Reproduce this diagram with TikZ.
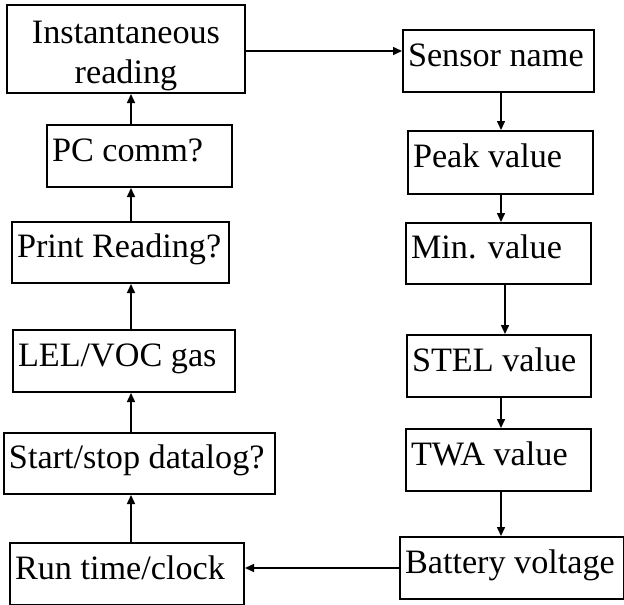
\documentclass[tikz,border=0pt]{standalone}
\usepackage{fontspec}
\setmainfont{Liberation Serif}
\usepackage{tikz}
\usetikzlibrary{positioning,arrows.meta}

\begin{document}
\begin{tikzpicture}[x=1pt, y=-1pt,
  box/.style={draw, line width=2pt, anchor=north west, inner xsep=5pt, inner ysep=0pt,
    align=flush left, text height=24pt, text depth=14pt, font=\fontsize{34.2}{40}\selectfont},
  arr/.style={-{Triangle[length=9pt,width=8pt]}, line width=1.5pt}]
\useasboundingbox (0,0) rectangle (624,605);
\coordinate (lx) at (131,0);
\coordinate (rx) at (501,0);
\coordinate (rx2) at (505,0);
\coordinate (ty) at (0,51);

\node[box, text width=228pt, minimum height=88pt, align=center, text height=24pt, text depth=36pt] (inst) at (6,4) {Instantaneous\\reading};
\node[box, text width=175pt, minimum height=62pt] (pc) at (46,124) {PC comm?};
\node[box, text width=207pt, minimum height=61pt] (prnt) at (11,221) {Print Reading?};
\node[box, text width=212pt, minimum height=62pt] (lel) at (12,329) {LEL/VOC gas};
\node[box, text width=261pt, minimum height=61pt] (dlog) at (3,432) {Start/stop datalog?};
\node[box, text width=224pt, minimum height=62pt] (run) at (9,542) {Run time/clock};

\node[box, text width=181pt, minimum height=62pt] (sens) at (402,29) {Sensor name};
\node[box, text width=175pt, minimum height=63pt] (peak) at (407,130) {Peak value};
\node[box, text width=175pt, minimum height=61pt] (minv) at (405,222) {Min. value};
\node[box, text width=174pt, minimum height=62pt] (stel) at (406,334) {STEL value};
\node[box, text width=175pt, minimum height=62pt] (twa) at (405,428) {TWA value};
\node[box, text width=214pt, minimum height=62pt] (batt) at (399,536) {Battery voltage};

\draw[arr] (inst.east |- ty) -- (sens.west |- ty);
\foreach \a/\b in {sens/peak, peak/minv, stel/twa, twa/batt}
  \draw[arr] (\a.south -| rx) -- (\b.north -| rx);
\draw[arr] (minv.south -| rx2) -- (stel.north -| rx2);
\draw[arr] (batt.west) -- (batt.west -| run.east);
\foreach \a/\b in {run/dlog, dlog/lel, lel/prnt, prnt/pc, pc/inst}
  \draw[arr] (\a.north -| lx) -- (\b.south -| lx);
\end{tikzpicture}
\end{document}
